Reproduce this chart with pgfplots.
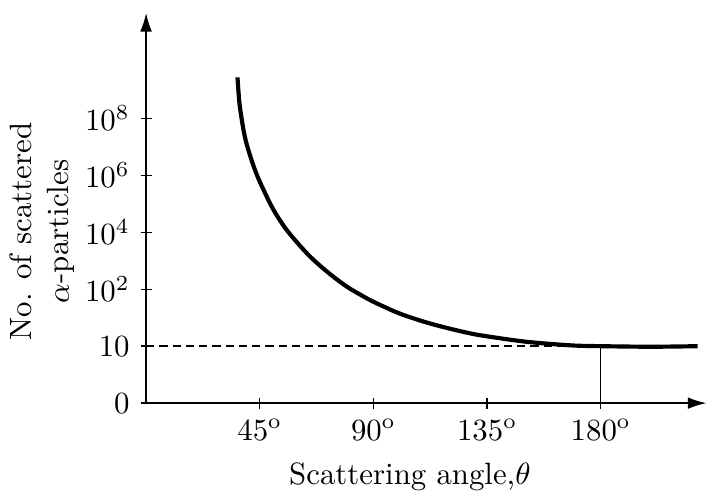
\documentclass[border=0pt]{standalone}
\usepackage{pgfplots}
\pgfplotsset{compat=1.18}
\usetikzlibrary{arrows.meta}

\begin{document}
\begin{tikzpicture}
\begin{axis}[
    scale only axis,
    width=181.8pt, height=126.6pt,
    xmin=0, xmax=221.8,
    ymin=0, ymax=6.85,
    axis x line=bottom, axis y line=left,
    axis line style={line width=0.45pt},
    x axis line style={-{Latex[length=6pt,width=3.8pt]}},
    y axis line style={-{Latex[length=6pt,width=3.8pt]}},
    tick align=center,
    major tick length=3.6pt,
    tick style={black, line width=0.45pt},
    xtick={45,90,135,180},
    xticklabels={$45^{\mathrm{o}}$,$90^{\mathrm{o}}$,$135^{\mathrm{o}}$,$180^{\mathrm{o}}$},
    ytick={0,1,2,3,4,5},
    yticklabels={$0$,$10$,$10^2$,$10^4$,$10^6$,$10^8$},
    xlabel={Scattering angle,$\theta$},
    ylabel={No. of scattered\\$\alpha$-particles},
    xlabel style={at={(ticklabel cs:0.471)}, yshift=-0.6pt},
    ylabel style={at={(ticklabel cs:0.44)}, align=center, yshift=-3.6pt},
    clip=false,
]
% dashed reference level and drop line at 180 deg
\addplot[black, line width=0.45pt, dash pattern=on 2.7pt off 1.6pt] coordinates {(0,1) (180,1)};
\addplot[black, line width=0.45pt] coordinates {(180,0) (180,1)};

% scattering curve
\addplot[black, line width=1.35pt, smooth] coordinates {
    (36.2,5.72) (37.0,5.25) (38.6,4.79) (40,4.52) (42.5,4.17)
    (45,3.89) (50,3.43) (55,3.08) (60,2.81) (65,2.57)
    (70,2.37) (75,2.19) (80,2.03) (85,1.90) (90,1.78)
    (100,1.58) (110,1.43) (120,1.31) (130,1.21) (140,1.14)
    (150,1.08) (160,1.04) (170,1.01) (180,1.00) (200,0.99) (218.4,1.00)
};
\end{axis}
% a little white room above the arrow, as in the reference
\path ([yshift=4pt]current bounding box.north);
\end{tikzpicture}
\end{document}
